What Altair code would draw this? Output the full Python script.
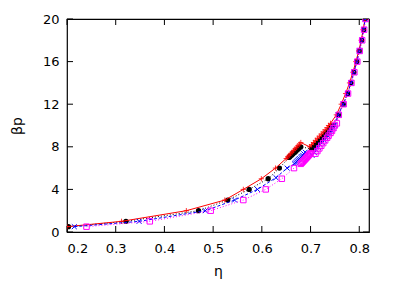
import altair as alt
import pandas as pd

# ---- data ----
black_eta = [0.203, 0.321, 0.470, 0.530, 0.574, 0.613, 0.636,
             0.656, 0.658, 0.661, 0.663, 0.665, 0.668, 0.670, 0.672, 0.675, 0.677, 0.680,
             0.702, 0.707, 0.711, 0.715, 0.719, 0.723, 0.727, 0.731, 0.735, 0.739, 0.742, 0.746,
             0.757, 0.767, 0.776, 0.783, 0.789, 0.795, 0.800, 0.805, 0.809, 0.812]
black_bp = [0.5, 1, 2, 3, 4, 5, 6,
            7.0, 7.1, 7.2, 7.3, 7.4, 7.5, 7.6, 7.7, 7.8, 7.9, 8.0,
            7.8, 8.0, 8.2, 8.4, 8.6, 8.8, 9.0, 9.2, 9.4, 9.6, 9.8, 10.0,
            11, 12, 13, 14, 15, 16, 17, 18, 19, 20]

red_eta = [0.200, 0.312, 0.445, 0.524, 0.562, 0.599, 0.628,
           0.650, 0.653, 0.656, 0.659, 0.662, 0.665, 0.668, 0.671, 0.674, 0.677, 0.680,
           0.698, 0.702, 0.706, 0.710, 0.714, 0.718, 0.722, 0.726, 0.730, 0.734, 0.737, 0.741,
           0.753, 0.763, 0.772, 0.780, 0.787, 0.793, 0.799, 0.804, 0.808, 0.812]
red_bp = [0.5, 1, 2, 3, 4, 5, 6,
          6.9, 7.05, 7.2, 7.35, 7.5, 7.65, 7.8, 7.95, 8.1, 8.25, 8.4,
          8.0, 8.2, 8.4, 8.6, 8.8, 9.0, 9.2, 9.4, 9.6, 9.8, 10.0, 10.2,
          11, 12, 13, 14, 15, 16, 17, 18, 19, 20]

blue_eta = [0.215, 0.348, 0.484, 0.544, 0.591, 0.629, 0.652,
            0.667, 0.669, 0.671, 0.673, 0.675, 0.677, 0.680, 0.682, 0.684, 0.686, 0.689,
            0.703, 0.708, 0.712, 0.716, 0.720, 0.724, 0.728, 0.732, 0.736, 0.740, 0.743, 0.747, 0.750,
            0.757, 0.767, 0.776, 0.783, 0.789, 0.795, 0.800, 0.805, 0.809, 0.812]
blue_bp = [0.5, 1, 2, 3, 4, 5.1, 6,
           6.4, 6.5, 6.6, 6.7, 6.8, 6.9, 7.0, 7.1, 7.2, 7.35, 7.5,
           7.2, 7.45, 7.7, 7.95, 8.2, 8.4, 8.6, 8.8, 9.0, 9.25, 9.5, 9.75, 10.0,
           11, 12, 13, 14, 15, 16, 17, 18, 19, 20]

mag_eta = [0.240, 0.370, 0.495, 0.562, 0.608, 0.641, 0.666,
           0.680, 0.682, 0.684, 0.686, 0.688, 0.690, 0.692, 0.694, 0.696, 0.698, 0.700,
           0.710, 0.714, 0.718, 0.722, 0.726, 0.730, 0.734, 0.737, 0.741, 0.744, 0.747, 0.750, 0.754,
           0.758, 0.768, 0.777, 0.784, 0.790, 0.796, 0.801, 0.806, 0.810, 0.813]
mag_bp = [0.5, 1, 2, 3, 4, 5, 6,
          6.4, 6.5, 6.6, 6.7, 6.8, 6.9, 7.0, 7.1, 7.2, 7.3, 7.4,
          7.35, 7.6, 7.85, 8.1, 8.35, 8.6, 8.85, 9.05, 9.3, 9.5, 9.75, 10.0, 10.2,
          11, 12, 13, 14, 15, 16, 17, 18, 19, 20]

x_ticks = [0.2, 0.3, 0.4, 0.5, 0.6, 0.7, 0.8]
y_ticks = [0, 4, 8, 12, 16, 20]

X_DOMAIN = [0.2, 0.82]
Y_DOMAIN = [0, 20]

xs = alt.Scale(domain=X_DOMAIN, nice=False, zero=False)
ys = alt.Scale(domain=Y_DOMAIN, nice=False)

PLUS = "M-1,0L1,0M0,-1L0,1"
XSYM = "M-1,-1L1,1M-1,1L1,-1"


def frame(eta, bp):
    return pd.DataFrame({"eta": eta, "bp": bp, "i": range(len(eta))})


def series(eta, bp, color, dash, shape, size, filled, sw):
    df = frame(eta, bp)
    base = alt.Chart(df)
    line_kw = dict(color=color, strokeWidth=1, clip=True)
    if dash:
        line_kw["strokeDash"] = dash
    line = base.mark_line(**line_kw).encode(
        x=alt.X("eta:Q", scale=xs), y=alt.Y("bp:Q", scale=ys), order="i:Q")
    pt = base.mark_point(shape=shape, size=size, filled=filled, color=color,
                         strokeWidth=sw, opacity=1, clip=True).encode(
        x=alt.X("eta:Q", scale=xs), y=alt.Y("bp:Q", scale=ys))
    return [line, pt]


layers = []
layers += series(black_eta, black_bp, "#000000", [1, 2], "circle", 28, True, 0)
layers += series(red_eta, red_bp, "#ff0000", None, PLUS, 28, False, 0.8)
layers += series(blue_eta, blue_bp, "#0000ff", [3, 2], XSYM, 24, False, 1)
layers += series(mag_eta, mag_bp, "#ff00ff", [1, 2], "square", 30, False, 1)

# inward ticks on all four sides
xt = pd.DataFrame({"t": x_ticks})
yt = pd.DataFrame({"t": y_ticks})
tick_layers = [
    alt.Chart(xt).mark_rule(color="black", strokeWidth=1).encode(
        x=alt.X("t:Q", scale=xs), y=alt.value(213), y2=alt.value(207)),
    alt.Chart(xt).mark_rule(color="black", strokeWidth=1).encode(
        x=alt.X("t:Q", scale=xs), y=alt.value(0), y2=alt.value(6)),
    alt.Chart(yt).mark_rule(color="black", strokeWidth=1).encode(
        y=alt.Y("t:Q", scale=ys), x=alt.value(0), x2=alt.value(6)),
    alt.Chart(yt).mark_rule(color="black", strokeWidth=1).encode(
        y=alt.Y("t:Q", scale=ys), x=alt.value(302), x2=alt.value(296)),
]

axis_layer = alt.Chart(xt).mark_point(opacity=0).encode(
    x=alt.X("t:Q", scale=xs, title="η",
            axis=alt.Axis(values=x_ticks, format=".1f", grid=False, tickSize=0,
                          labelPadding=10, titlePadding=9, domain=False)),
    y=alt.Y("t:Q", scale=ys, title="βp",
            axis=alt.Axis(values=y_ticks, grid=False, tickSize=0,
                          labelPadding=8, titlePadding=18, domain=False)),
)

chart = alt.layer(axis_layer, *tick_layers, *layers).properties(
    width=302, height=213,
    autosize=alt.AutoSizeParams(type="none"),
    padding={"left": 59, "top": 11, "right": 20, "bottom": 50},
).configure_view(stroke="black", strokeWidth=1.2).configure_axis(
    labelFont="DejaVu Sans", titleFont="DejaVu Sans",
    labelFontSize=13, titleFontSize=14, titleFontWeight="normal",
    labelColor="black", titleColor="black",
)

chart.save("out.html", embed_options={"renderer": "svg", "actions": False})
